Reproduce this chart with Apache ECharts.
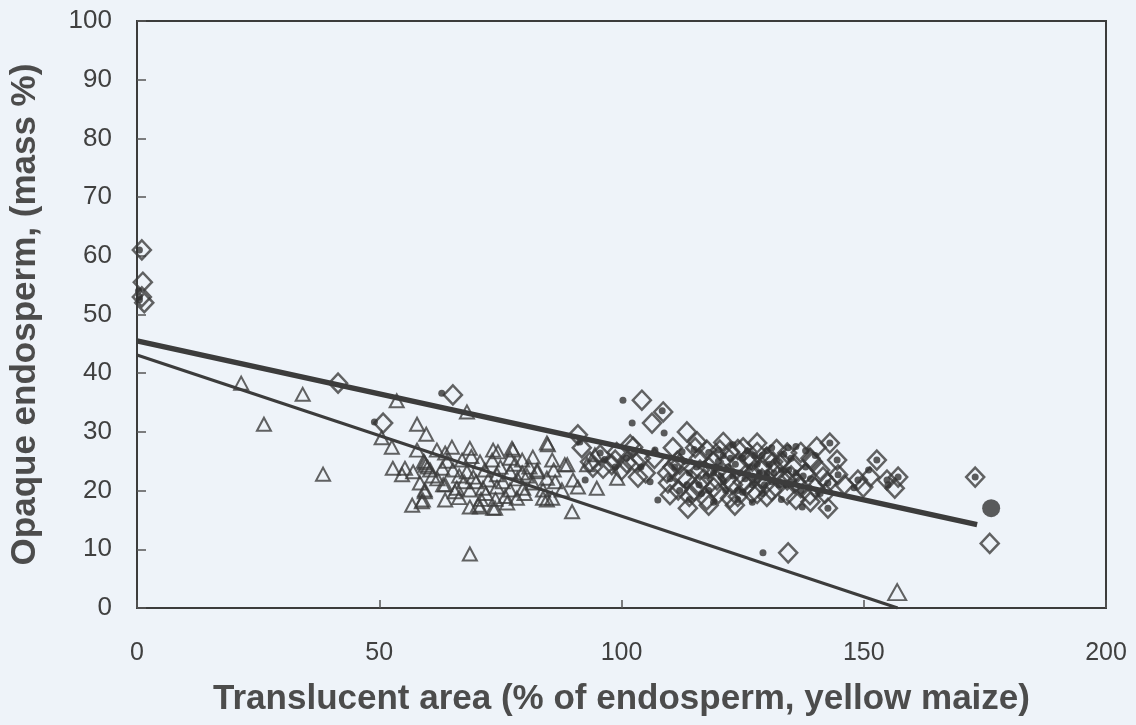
<!DOCTYPE html>
<html>
<head>
<meta charset="utf-8">
<script src="https://cdn.jsdelivr.net/npm/echarts@6/dist/echarts.min.js"></script>
<style>
html,body{margin:0;padding:0;background:#eef3f9;}
#c{width:1136px;height:725px;}
</style>
</head>
<body>
<div id="c"></div>
<script>
var xTicks = [0, 50, 100, 150, 200];
var yTicks = [0, 10, 20, 30, 40, 50, 60, 70, 80, 90, 100];

var triangles = [[21.5,38.3],[34.2,36.4],[26.2,31.3],[38.4,22.8],[53.6,35.3],[68.1,33.4],[57.8,31.3],[59.7,29.6],[50.5,29.0],[52.6,27.4],[57.8,26.9],[68.7,9.2],[68.7,27.2],[65,27.4],[61.9,26.9],[73.5,26.9],[74.5,26.6],[77.6,26.9],[84.6,28.1],[88.3,24.4],[85.7,25.2],[81.7,25.7],[79.5,25.2],[77,25.5],[73.3,25.2],[70.8,24.9],[67.1,25.2],[63.6,26.4],[52.8,23.8],[55.3,23.8],[57,23.2],[54.7,22.7],[59.4,24.7],[63,23.8],[65.2,23.5],[68.1,23.2],[69.4,22.3],[71.8,23.5],[74.3,22.7],[77,23.2],[79.5,23.0],[82.6,23.2],[84.6,22.1],[86.3,21.5],[87.7,20.1],[63.6,21.0],[66,20.4],[68.7,20.1],[71.4,20.4],[74.3,20.6],[77,20.1],[79.7,20.4],[81.7,21.3],[83.8,18.7],[85.7,18.7],[59.4,20.1],[59,18.4],[56.8,17.5],[63.6,18.4],[68.7,17.2],[70.8,17.2],[73.5,17.0],[76.4,17.9],[78.4,18.7],[77.4,27.2],[84.8,27.8],[88.8,24.4],[90,21.8],[91,20.6],[94.9,20.4],[89.8,16.4],[84.6,18.4],[99.1,22.1],[92.9,24.4],[94.5,26.1],[82.6,23.5],[83.8,20.1],[58.8,18.1],[59.4,19.8],[58.4,21.3],[60,24.0],[60.5,23.5],[61,22.5],[62,22],[66.5,22.5],[70,21.5],[72.5,21.8],[75.5,21.5],[76,19],[80.5,22.5],[80,19.5],[71,18.5],[66.5,18.8],[65.6,19.8],[63.2,21.0],[73.9,17.0],[70.4,17.5],[75,24],[78,24.5],[64,25],[69,25.8],[59.6,24.3],[59.2,25.0],[72,19.5],[74,18.5],[81,24],[86,23.5],[67.5,21.5],[78.5,22]];
var bigTriangle = [[156.9,2.7]];

var diamonds = [[1,61],[1.2,55.5],[1,53],[1.5,52],[41.5,38.3],[65.2,36.3],[50.8,31.5],[91,29.5],[91.8,27.3],[95.6,26.1],[93.5,24.9],[96.2,23.8],[98.7,25.2],[102.4,27.4],[101.1,24.7],[103.4,22.3],[104.2,35.4],[108.6,33.4],[106.3,31.5],[113.5,30.0],[110.6,27.3],[115.2,27.3],[117.6,26.9],[120.3,26.9],[122.4,26.6],[125.1,27.3],[128,28.1],[130,25.7],[134.2,26.4],[135.4,24.0],[109.4,23.0],[110,19.3],[113.7,17.0],[117.6,18.4],[123.4,17.5],[126.9,19.6],[130,21.3],[134.2,19.3],[134.4,9.4],[119.7,21.8],[113.5,21.8],[111.7,20.1],[143,28.1],[144.5,25.2],[144.7,22.7],[142.6,21.3],[142.6,17.0],[152.7,25.2],[151.3,22.3],[148.8,21.8],[149.9,20.6],[154.8,21.8],[156.4,20.4],[157.1,22.3],[173,22.3],[176,11.0],[140.3,27.4],[139,18.1],[131.3,24.9],[138.9,19.3],[115.6,28.3],[94.1,24.0],[98,24.4],[101.8,27.8],[102.8,24.9],[109.6,21.3],[116.2,23.5],[112.7,22.3],[122.4,18.7],[141.6,22.3],[139.5,24.9],[134.2,21.8],[118,24],[121,23],[124,24.5],[127,23],[129,22],[131,20],[133,22],[136,21.5],[138,23],[139,25.5],[137,26.5],[126,25.5],[123,21],[120,19.5],[125,21.5],[128,19.5],[115,20],[116,25.5],[119,25],[132,27],[136,18.5],[141,23.5],[140,20.5],[117,22],[112,24.5],[128,26.5],[124,27],[111.5,25],[121,28.2],[106.8,25.5],[105,23],[100,23.5],[114,19],[119,20.5],[122,22],[126,21],[129,24],[132,23.5],[135,22.5],[137,20.5],[130,19],[124,19],[116,21],[118,17.5],[127,25],[133,25],[110.5,24],[142,19.5],[146,21],[104,25.5],[99,26.5]];

var dots = [[0.5,61],[0.3,54],[0.5,53],[0.5,52.5],[62.9,36.6],[49,31.7],[100.3,35.4],[108.4,33.6],[102.2,31.5],[108.8,29.8],[106.9,26.9],[112.5,26.6],[105.9,21.5],[107.5,18.4],[129.2,9.4],[123,27.8],[120,26.9],[98.7,24.0],[91.4,28.3],[95.6,26.4],[92.5,21.8],[143,28.1],[144.5,25.2],[144.7,22.7],[142.6,21.3],[142.6,17.0],[152.7,25.2],[148.8,21.8],[154.8,21.8],[157.1,22.3],[173,22.3],[137.3,17.2],[134.4,27.3],[110,22],[112,20],[114,23],[116,21],[117,24.5],[118,20],[119,23],[120,25],[121,21.5],[122,24],[123,22.5],[124,20],[125,25.5],[126,23],[127,21],[128,24.5],[129,26],[130,23],[131,21.5],[132,25],[133,23.5],[134,21],[135,25.5],[136,23],[137,20],[138,24],[139,22],[140,26],[141,19.5],[138,26.8],[113,25],[115,27],[111,24],[118,26.5],[126,26.8],[131,27.3],[136,27.5],[124,18.5],[119,18],[129,19.5],[133,18.5],[114,18.5],[127,18],[96.5,25.3],[101,25.5],[104,24],[148,20.5],[151,23.5],[155,21],[120.5,22.5],[123.5,24.5],[125.5,22],[128.5,23],[130.5,24.5],[132.5,21],[134.5,23.5],[121.5,20],[117.5,22.5],[115.5,24],[126.5,24],[129.5,21],[122.5,25.5],[124.5,23],[119.5,24],[121,26],[127.5,26],[131.5,23],[133.5,26.2],[135.5,21.5],[116.5,19.5],[113.5,21],[125,19.7],[128,21.8],[130,26.8],[137.5,22.5]];
var bigDot = [[176.3,17.0]];

var fitThick = [[0,45.5],[173.4,14.2]];
var fitThin = [[0,43.1],[157,0]];

var chart = echarts.init(document.getElementById('c'), null, {renderer:'canvas'});
var ink = '#3c3c3c';
chart.setOption({
  backgroundColor: '#eef3f9',
  animation: false,
  grid: {left:137, top:21, right:30, bottom:117, show:true, borderColor:ink, borderWidth:2, backgroundColor:'transparent'},
  xAxis: {
    type:'value', min:xTicks[0], max:xTicks[xTicks.length-1], interval:50,
    name:'Translucent area (% of endosperm, yellow maize)', nameLocation:'middle', nameGap:74,
    nameTextStyle:{fontFamily:'Liberation Sans', fontWeight:'bold', fontSize:35, color:'#4c4c4c'},
    axisLine:{show:true, lineStyle:{color:ink, width:2}},
    axisTick:{show:true, inside:true, length:8, lineStyle:{color:'#555', width:1.5}},
    axisLabel:{fontFamily:'Liberation Sans', fontSize:25, color:'#404040', margin:33},
    splitLine:{show:false}
  },
  yAxis: {
    type:'value', min:yTicks[0], max:yTicks[yTicks.length-1], interval:10,
    name:'Opaque endosperm, (mass %)', nameLocation:'middle', nameGap:94, nameRotate:90,
    nameTextStyle:{fontFamily:'Liberation Sans', fontWeight:'bold', fontSize:35, color:'#4c4c4c'},
    axisLine:{show:true, lineStyle:{color:ink, width:2}},
    axisTick:{show:true, inside:true, length:9, lineStyle:{color:'#555', width:1.5}},
    axisLabel:{fontFamily:'Liberation Sans', fontSize:26, color:'#404040', margin:25},
    splitLine:{show:false}
  },
  series: [
    {type:'scatter', data:triangles, symbol:'triangle', symbolSize:[14,13],
     itemStyle:{color:'rgba(0,0,0,0)', borderColor:ink, borderWidth:2}},
    {type:'scatter', data:bigTriangle, symbol:'triangle', symbolSize:[18,16],
     itemStyle:{color:'rgba(0,0,0,0)', borderColor:ink, borderWidth:2}},
    {type:'scatter', data:diamonds, symbol:'diamond', symbolSize:[18,19],
     itemStyle:{color:'rgba(0,0,0,0)', borderColor:ink, borderWidth:2.5}},
    {type:'scatter', data:dots, symbol:'circle', symbolSize:7,
     itemStyle:{color:'#333333'}},
    {type:'scatter', data:bigDot, symbol:'circle', symbolSize:18,
     itemStyle:{color:'#333333'}},
    {type:'line', data:fitThick, symbol:'none', lineStyle:{color:ink, width:5.5}},
    {type:'line', data:fitThin, symbol:'none', lineStyle:{color:ink, width:3}}
  ]
});
</script>
</body>
</html>
